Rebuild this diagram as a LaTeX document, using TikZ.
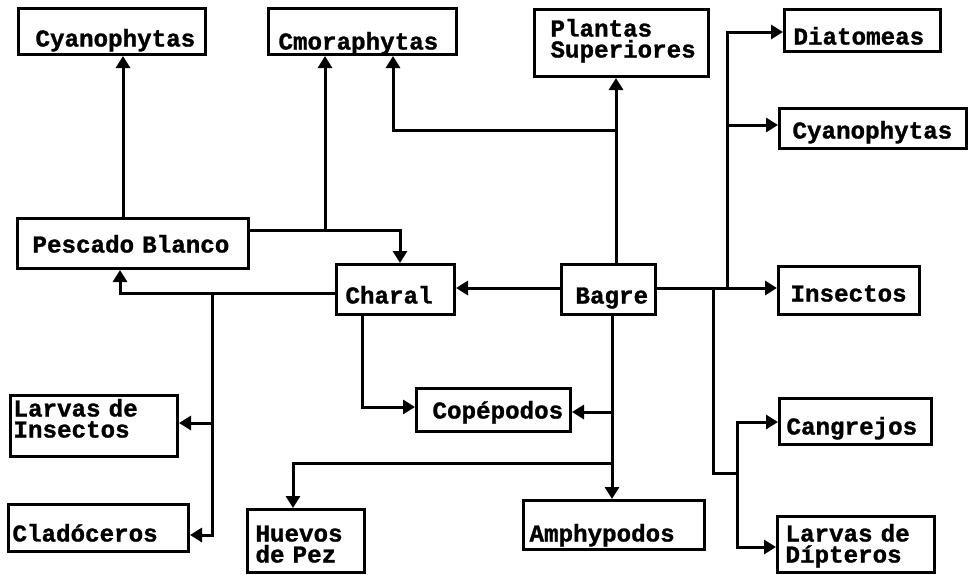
\documentclass[tikz,border=0pt]{standalone}
\usepackage{fontspec}
\setmainfont{Liberation Mono}[BoldFeatures={FakeBold=1.2}]
\usetikzlibrary{arrows.meta}
\newcommand\myboxfont{\fontsize{24.2}{21}\selectfont\bfseries}
\hyphenpenalty=10000
\exhyphenpenalty=10000
\tikzset{
  box/.style={draw, line width=3pt, align=left, inner ysep=0pt, font={\myboxfont}},
  arr/.style={line width=3pt, -{Triangle[length=12pt,width=14pt]}},
  wire/.style={line width=3pt}
}
% name, x1, y1, x2, y2, text left, first baseline, text
\newcommand\fwbox[8]{%
  \pgfmathsetmacro\myBW{#4-#2}%
  \pgfmathsetmacro\myBH{#5-#3}%
  \pgfmathsetmacro\myBP{#6-#2-1}%
  \pgfmathsetmacro\myTW{\myBW-2*\myBP}%
  \pgfmathsetmacro\myBB{#7-#3}%
  \pgfmathsetmacro\myBD{\myBH-\myBB}%
  \node[box, anchor=north west, inner xsep=\myBP pt, text width=\myTW pt,
        text height=\myBB pt, text depth=\myBD pt] (#1) at (#2,#3) {#8};}
\begin{document}
\begin{tikzpicture}[x=1pt,y=-1pt]
\fill[white] (0,0) rectangle (968,574);
\useasboundingbox (0,0) rectangle (968,574);

\fwbox{cyanL}{17}{7}{204}{53}{35}{45}{Cyanophytas}
\fwbox{cmora}{267}{7}{455}{53}{278}{48}{Cmoraphytas}
\fwbox{plantas}{533}{8}{707}{75}{550}{35}{\baselineskip=21pt Plantas\\Superiores}
\fwbox{diat}{783}{8}{939}{50}{793}{43}{Diatomeas}
\fwbox{cyanR}{778}{107}{965}{147}{792}{137}{Cyanophytas}
\fwbox{pescado}{16}{217}{247}{267}{32}{251}{Pescado Blanco}
\fwbox{charal}{335}{263}{453}{313}{345}{302}{Charal}
\fwbox{bagre}{560}{263}{654}{313}{575}{302}{Bagre}
\fwbox{insectos}{777}{265}{918}{313}{790}{300}{Insectos}
\fwbox{larvasI}{9}{394}{176}{455}{13}{415}{\baselineskip=20pt Larvas de\\Insectos}
\fwbox{cope}{415}{387}{569}{430}{432}{417}{Copépodos}
\fwbox{clad}{7}{503}{187}{550}{12}{540}{Cladóceros}
\fwbox{huevos}{246}{508}{363}{571}{255}{540}{\baselineskip=23pt Huevos\\de Pez}
\fwbox{amphy}{522}{499}{703}{548}{529}{540}{Amphypodos}
\fwbox{cang}{778}{397}{930}{443}{786}{433}{Cangrejos}
\fwbox{dipt}{776}{515}{933}{571}{785}{540}{\baselineskip=23pt Larvas de\\Dípteros}

% Pescado Blanco
\draw[arr] (pescado.north -| 123,0) -- (cyanL.south -| 123,0);
\draw[arr] (pescado.east |- 0,230) -| (charal.north -| 400,0);
\coordinate (jPC) at (325,230);
\draw[arr] (jPC) -- (cmora.south -| jPC);

% Charal
\draw[arr] (charal.west |- 0,293) -| (pescado.south -| 120,0);
\coordinate (jCL) at (212,293);
\draw[arr] (jCL) |- (larvasI.east |- 0,423);
\draw[arr] (jCL) |- (clad.east |- 0,535);
\draw[arr] (charal.south -| 362,0) |- (cope.west |- 0,407);

% Bagre
\draw[arr] (bagre.west |- 0,288) -- (charal.east |- 0,288);
\draw[arr] (bagre.north -| 616,0) -- (plantas.south -| 616,0);
\coordinate (jBC) at (616,130);
\draw[arr] (jBC) -| (cmora.south -| 393,0);
\draw[arr] (bagre.south -| 612,0) -- (amphy.north -| 612,0);
\coordinate (jBK) at (612,412);
\draw[arr] (jBK) -- (cope.east |- jBK);
\coordinate (jBH) at (612,463);
\draw[arr] (jBH) -| (huevos.north -| 293,0);
\draw[arr] (bagre.east |- 0,288) -- (insectos.west |- 0,288);
\coordinate (jBD) at (727,288);
\draw[arr] (jBD) |- (diat.west |- 0,32);
\coordinate (jBY) at (727,125);
\draw[arr] (jBY) -- (cyanR.west |- jBY);
\coordinate (jBG) at (713,288);
\coordinate (jBG2) at (737,473);
\draw[wire] (jBG) |- (jBG2);
\draw[arr] (jBG2) |- (cang.west |- 0,422);
\draw[arr] (jBG2) |- (dipt.west |- 0,547);
\end{tikzpicture}
\end{document}
